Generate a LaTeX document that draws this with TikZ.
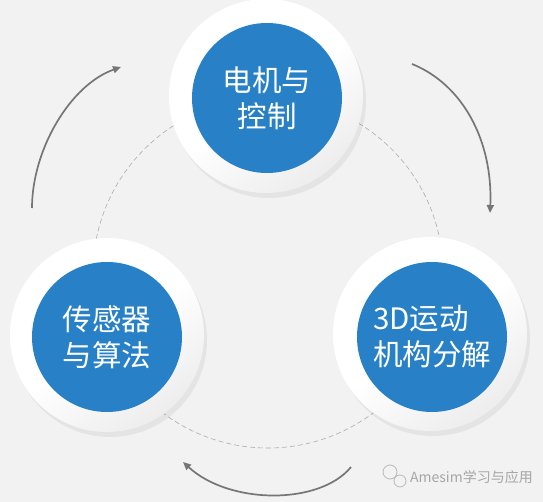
\documentclass[tikz,border=0pt]{standalone}
\usepackage{fontspec}
\newfontfamily\cjk{Noto Sans CJK SC}
\usetikzlibrary{positioning}
\usetikzlibrary{shadows}
\usetikzlibrary{arrows.meta}

\definecolor{discblue}{RGB}{40,128,198}
\definecolor{bggray}{RGB}{242,242,242}
\definecolor{arcgray}{RGB}{118,118,118}

\begin{document}
\begin{tikzpicture}[x=1pt, y=-1pt,
    plate/.style={circle, minimum size=194pt, inner sep=0pt, top color=white, bottom color=gray!14, middle color=white, shading angle=35,
      drop shadow={opacity=0.12, shadow xshift=3pt, shadow yshift=-5pt}},
    disc/.style={circle, minimum size=150pt, inner sep=0pt, fill=discblue, text=white, font=\cjk\fontsize{29.5}{36}\selectfont},
    turn/.style={draw=arcgray, line width=1.7pt, -{Triangle[length=8pt, width=7pt]}}]
  \fill[bggray] (0,0) rectangle (543,502);
  \useasboundingbox (0,0) rectangle (543,502);

  % ring through the three plates
  \draw[gray!65, line width=0.6pt, dash pattern=on 5pt off 3pt] (268,273) circle[radius=175];

  \node[plate] (plateA) at (266,96) {};
  \node[disc, align=center] (motor) at (267,98) {电机与\\控制};

  \node[plate] (plateB) at (107,335) {};
  \node[disc, align=center] (sensor) at (107,337) {传感器\\与算法};

  \node[plate] (plateC) at (430,334) {};
  \node[disc, align=left] (motion) at (432,337) {3D运动\\机构分解};

  % turning arrows
  \coordinate (l1) at (32,208);
  \coordinate (l2) at (121,67);
  \draw[turn] (l1) .. controls (32,150) and (70,85) .. (l2);

  \coordinate (r1) at (412,64);
  \coordinate (r2) at (490,213);
  \draw[turn] (r1) .. controls (462,84) and (493,140) .. (r2);

  \coordinate (b1) at (351,467);
  \coordinate (b2) at (183,462);
  \draw[turn] (b1) .. controls (320,505) and (230,505) .. (b2);

  % watermark
  \draw[gray!55, line width=0.8pt] (390,472) circle[radius=7];
  \draw[gray!55, line width=0.8pt, fill=bggray] (400,481) circle[radius=6];
  \node[anchor=west, inner sep=0pt, text=gray!70, font=\cjk\fontsize{14}{16}\selectfont] (mark) at (410,477) {Amesim学习与应用};
\end{tikzpicture}
\end{document}
